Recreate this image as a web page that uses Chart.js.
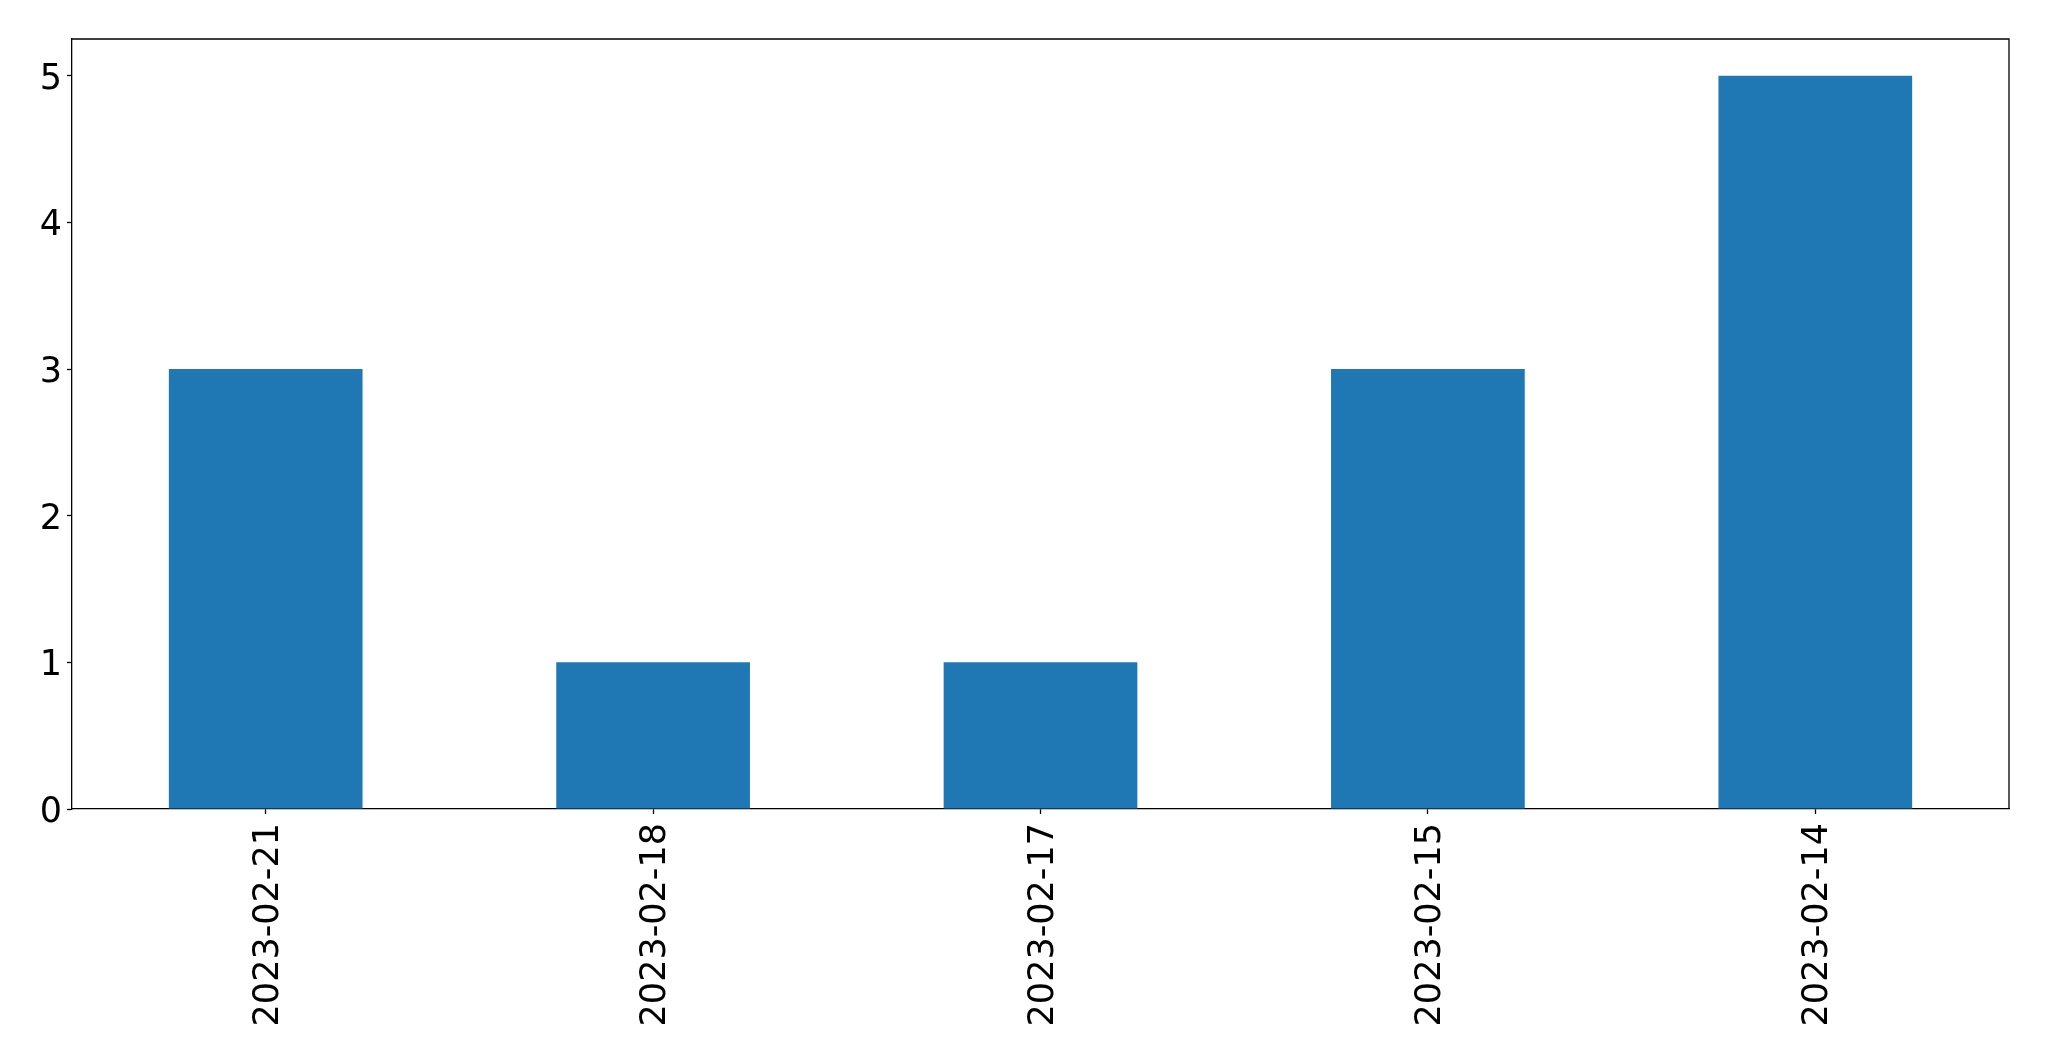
<!DOCTYPE html>
<html>
<head>
<meta charset="utf-8">
<script src="https://cdn.jsdelivr.net/npm/chart.js@4/dist/chart.umd.min.js"></script>
<style>
  html, body { margin:0; padding:0; background:#fff; }
  canvas { display:block; }
</style>
</head>
<body>
<canvas id="barChart" width="2049" height="1061"></canvas>
<script>
const dates = ['2023-02-21', '2023-02-18', '2023-02-17', '2023-02-15', '2023-02-14']
const counts = [3, 1, 1, 3, 5]
const yMax = 5.25

// draws the top and right sides of the axes box
const frame = {
  id: 'frame',
  afterDraw(chart) {
    const { ctx, chartArea: a } = chart
    ctx.save()
    ctx.strokeStyle = '#000'
    ctx.lineWidth = 1.3
    ctx.beginPath()
    ctx.moveTo(a.left, a.top)
    ctx.lineTo(a.right, a.top)
    ctx.lineTo(a.right, a.bottom)
    ctx.stroke()
    ctx.restore()
  }
}

const ctx = document.getElementById('barChart').getContext('2d')
new Chart(ctx, {
  type: 'bar',
  data: {
    labels: dates,
    datasets: [{ data: counts, backgroundColor:'#1f77b4', categoryPercentage:1, barPercentage:0.5 }]
  },
  options: {
    responsive: false,
    animation: false,
    layout: { padding: { left:0, top:39, right:40, bottom:0 } },
    plugins: { legend: { display:false }, tooltip: { enabled:false } },
    scales: {
      x: {
        grid: { offset:false, drawOnChartArea:false, drawTicks:true, tickLength:5, tickColor:'#000', tickWidth:1.3 },
        border: { color:'#000', width:1.3 },
        ticks: { color:'#000', font:{ family:'DejaVu Sans', size:35 }, minRotation:90, maxRotation:90, padding:9, labelOffset:3 },
        afterFit: s => { s.height = 252 }
      },
      y: {
        min: 0, max: yMax,
        grid: { drawOnChartArea:false, drawTicks:true, tickLength:5, tickColor:'#000', tickWidth:1.3 },
        border: { color:'#000', width:1.3 },
        ticks: { color:'#000', stepSize:1, includeBounds:false, font:{ family:'DejaVu Sans', size:35 }, padding:5, labelOffset:4 },
        afterFit: s => { s.width = 72 }
      }
    }
  },
  plugins: [frame]
})
</script>
</body>
</html>
